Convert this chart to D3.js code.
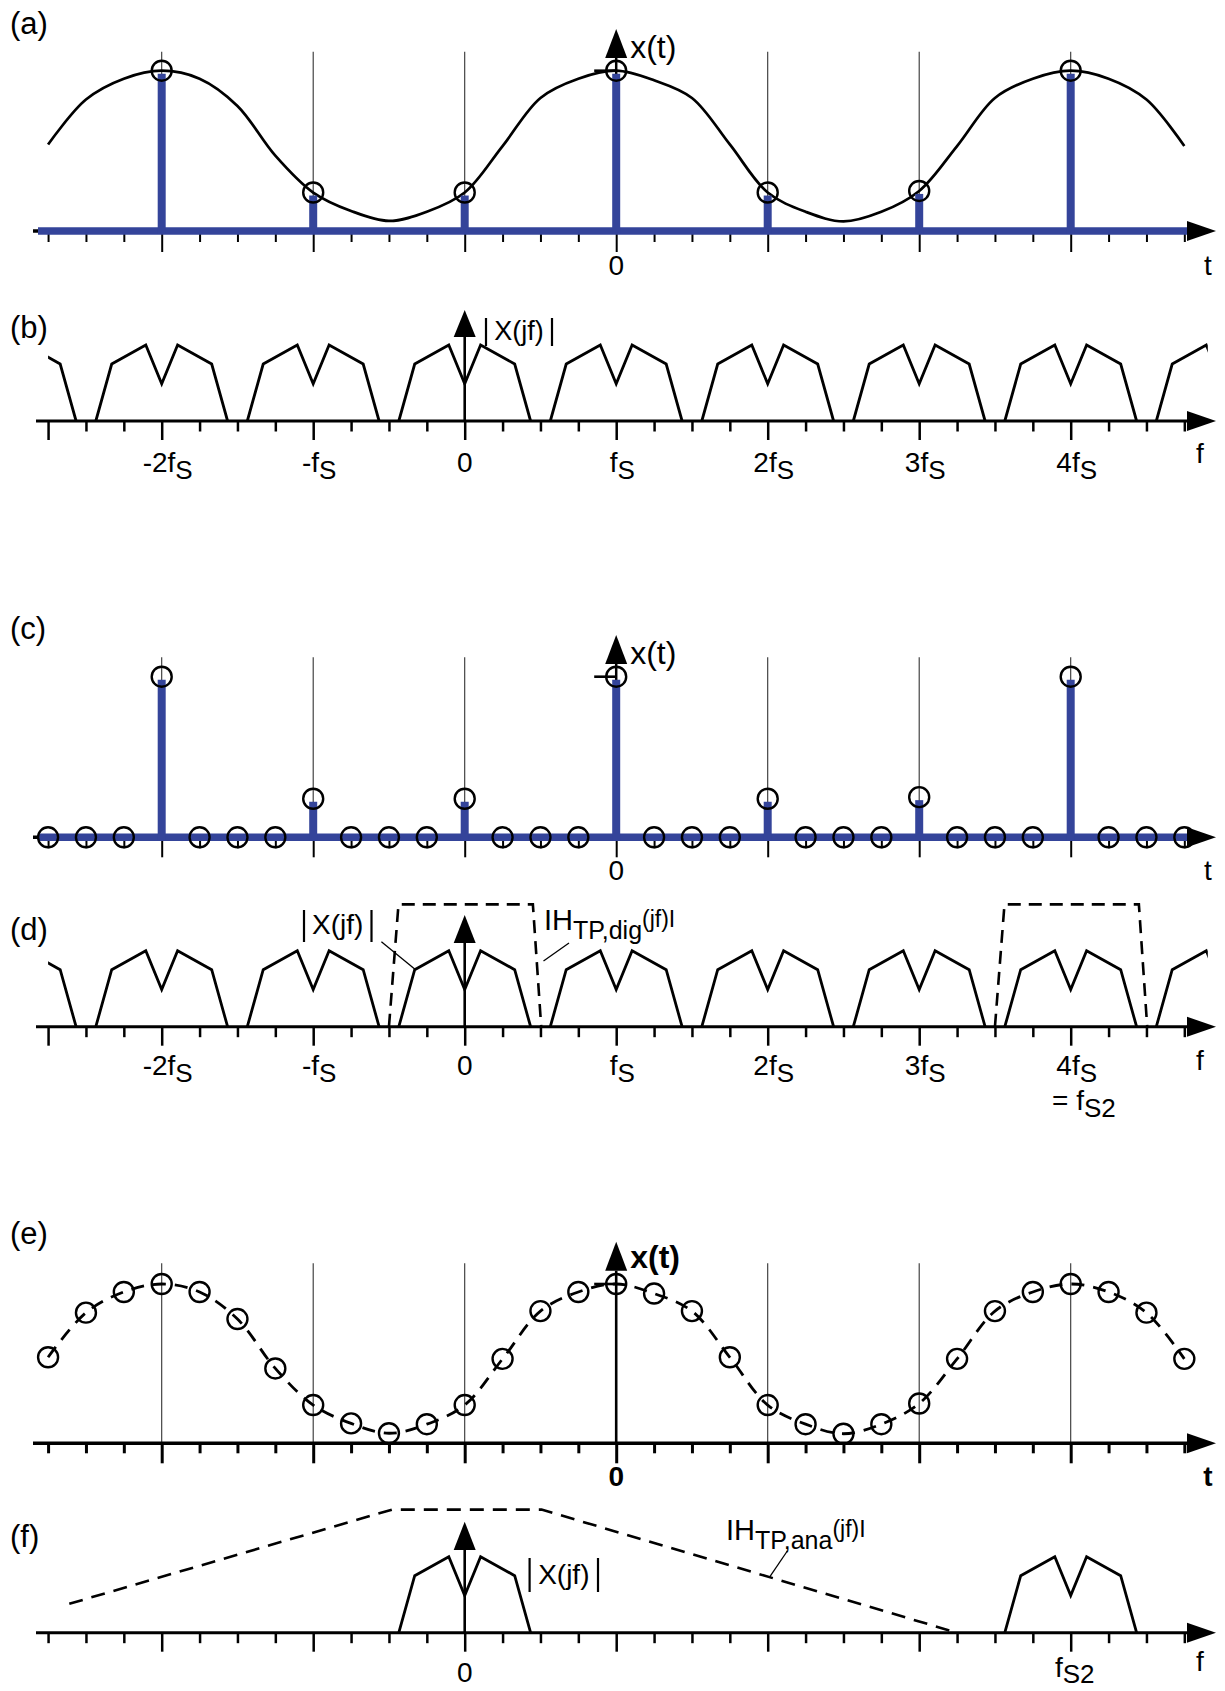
<!DOCTYPE html>
<html>
<head>
<meta charset="utf-8">
<script src="https://cdn.jsdelivr.net/npm/d3@7"></script>
<style>
body { margin: 0; background: #fff; }
text { font-family: "Liberation Sans", Arial, Helvetica, sans-serif; fill: #000; }
</style>
</head>
<body>
<div id="chart"></div>
<script>
// ---------------- data ----------------
// fine time grid (index n) and the analog signal x(t) read at those points (peak = 1)
var sample_t = [-15, -14, -13, -12, -11, -10, -9, -8, -7, -6, -5, -4, -3, -2, -1, 0,
                1, 2, 3, 4, 5, 6, 7, 8, 9, 10, 11, 12, 13, 14, 15];
var x_samples = [0.54, 0.82, 0.95, 1.0, 0.95, 0.78, 0.47, 0.24, 0.125, 0.063, 0.12, 0.24, 0.53, 0.83, 0.95, 1.0,
                 0.94, 0.83, 0.54, 0.24, 0.12, 0.06, 0.12, 0.25, 0.53, 0.83, 0.95, 1.0, 0.95, 0.82, 0.53];
// coarse sampling instants (every 4th point)
var stem_t = [-12, -8, -4, 0, 4, 8, 12];

// one period of the sampled spectrum |X(jf)| (offset from replica centre in fS, height)
var spec_f = [-0.435, -0.33, -0.105, 0, 0.105, 0.33, 0.435];
var spec_h = [0, 0.75, 1.0, 0.49, 1.0, 0.75, 0];
var replica_centers = [-3, -2, -1, 0, 1, 2, 3, 4, 5];
var replica_centers_f = [0, 4];

// frequency tick labels [main, subscript]
var f_major = [-2, -1, 0, 1, 2, 3, 4];
var f_labels = [["-2f", "S"], ["-f", "S"], ["0", ""], ["f", "S"], ["2f", "S"], ["3f", "S"], ["4f", "S"]];

// digital low pass |H_TP,dig(jf)| (offset from centre, height) and its centres
var dig_f = [-0.5, -0.437, 0.45, 0.505];
var dig_h = [0, 1.61, 1.61, 0];
var dig_centers = [0, 4];

// analog low pass |H_TP,ana(jf)|
var ana_f = [-2.61, -0.48, 0.507, 3.25];
var ana_h = [0.38, 1.62, 1.62, 0];

// ---------------- setup ----------------
var svg_width = 1225;
var svg_height = 1691;
var blue = "#34449a";

var svg = d3.select("#chart")
    .append("svg")
    .attr("width", svg_width)
    .attr("height", svg_height);

svg.append("rect").attr("width", svg_width).attr("height", svg_height).attr("fill", "#fff");

// shared horizontal scales (time index n and frequency in fS)
var t_scale = d3.scaleLinear().domain([-12, 12]).range([161.7, 1070.7]);
var f_scale = d3.scaleLinear().domain([-2, 4]).range([161.7, 1070.7]);

var minor_t = sample_t.filter(d => stem_t.indexOf(d) < 0);
var minor_f = d3.range(-11, 20).map(d => d / 4).filter(d => d % 1 !== 0);

var arrow_tip = 1216;
var arrow_len = 29;

// ---------------- helpers ----------------
function axisLine(g, y, x1, width, color) {
    g.append("line")
        .attr("x1", x1).attr("x2", arrow_tip - arrow_len + 2)
        .attr("y1", y).attr("y2", y)
        .attr("stroke", color).attr("stroke-width", width);
}

function rightArrow(g, y) {
    g.append("path")
        .attr("d", `M${arrow_tip},${y} L${arrow_tip - arrow_len},${y - 10} L${arrow_tip - arrow_len},${y + 10} Z`)
        .attr("fill", "#000");
}

function upArrow(g, x, tip, base, axisY, width) {
    if (axisY !== null) {
        g.append("line")
            .attr("x1", x).attr("x2", x).attr("y1", base).attr("y2", axisY)
            .attr("stroke", "#000").attr("stroke-width", width);
    }
    g.append("path")
        .attr("d", `M${x},${tip} L${x - 11},${base} L${x + 11},${base} Z`)
        .attr("fill", "#000");
}

function tickRow(g, y, scale, values, len, width) {
    var ax = g.append("g")
        .attr("transform", `translate(0, ${y})`)
        .call(d3.axisBottom(scale).tickValues(values).tickSize(len).tickFormat(""));
    ax.select(".domain").remove();
    ax.selectAll("line").attr("stroke-width", width).attr("stroke", "#000");
}

function addText(g, x, y, parts, size, anchor, bold) {
    var t = g.append("text")
        .attr("x", x).attr("y", y)
        .attr("font-size", size)
        .attr("text-anchor", anchor || "start");
    if (bold) t.attr("font-weight", "bold");
    var prev = 0;
    parts.forEach(function(p) {
        var dy = p.dy || 0;
        var sp = t.append("tspan").attr("dy", dy - prev).text(p.text);
        if (p.size) sp.attr("font-size", p.size);
        prev = dy;
    });
    return t;
}

function magLabel(g, xl, xr, y1, y2, baseline, size) {
    [xl, xr].forEach(function(x) {
        g.append("line").attr("x1", x).attr("x2", x).attr("y1", y1).attr("y2", y2)
            .attr("stroke", "#000").attr("stroke-width", 2.2);
    });
    addText(g, (xl + xr) / 2, baseline, [{ text: "X(jf)" }], size, "middle");
}

function freqLabels(g, baseline) {
    f_major.forEach(function(v, i) {
        var lab = f_labels[i];
        var parts = [{ text: lab[0] }];
        if (lab[1]) parts.push({ text: lab[1], size: 26, dy: 7 });
        addText(g, f_scale(v) + (lab[1] ? 6 : 0), baseline, parts, 28, "middle");
    });
}

function spectrum(g, centers, yScale, clipId) {
    var line = d3.line()
        .x(d => f_scale(d[0]))
        .y(d => yScale(d[1]));
    var sg = g.append("g");
    if (clipId) sg.attr("clip-path", `url(#${clipId})`);
    centers.forEach(function(c) {
        var pts = spec_f.map((o, i) => [c + o, spec_h[i]]);
        sg.append("path").attr("d", line(pts))
            .attr("fill", "none").attr("stroke", "#000")
            .attr("stroke-width", 2.8).attr("stroke-linejoin", "miter");
    });
}

function panelLabel(g, text, baseline) {
    addText(g, 10, baseline, [{ text: text }], 31, "start");
}

var defs = svg.append("defs");
defs.append("clipPath").attr("id", "specClip")
    .append("rect").attr("x", f_scale(-2.75)).attr("y", 0)
    .attr("width", f_scale(4.905) - f_scale(-2.75)).attr("height", svg_height);

// ---------------- time panels (a), (c), (e) ----------------
function timePanel(cfg) {
    var g = svg.append("g");
    var y = d3.scaleLinear().domain([0, 1]).range([cfg.axisY, cfg.peakY]);
    var x0 = t_scale(0);

    // thin guide lines at the coarse sampling instants
    stem_t.filter(d => d !== 0).forEach(function(t) {
        g.append("line")
            .attr("x1", t_scale(t)).attr("x2", t_scale(t))
            .attr("y1", cfg.guideTop).attr("y2", cfg.axisY)
            .attr("stroke", "#333").attr("stroke-width", 1.1);
    });

    var curve = d3.line()
        .x(d => t_scale(d[0]))
        .y(d => y(d[1]))
        .curve(d3.curveCatmullRom.alpha(0.5));
    var pts = sample_t.map((t, i) => [t, x_samples[i]]);

    if (cfg.kind === "a") {
        g.append("path").attr("d", curve(pts))
            .attr("fill", "none").attr("stroke", "#000").attr("stroke-width", 2.7);
    }
    if (cfg.kind === "e") {
        g.append("path").attr("d", curve(pts))
            .attr("fill", "none").attr("stroke", "#000").attr("stroke-width", 2.8)
            .attr("stroke-dasharray", "13,9");
        upArrow(g, x0, cfg.arrowTip, cfg.arrowTip + 29, cfg.axisY, 2.6);
    }

    axisLine(g, cfg.axisY, 33, 3.5, "#000");
    tickRow(g, cfg.axisY, t_scale, minor_t, cfg.minorLen, cfg.tickW);
    tickRow(g, cfg.axisY, t_scale, stem_t, cfg.majorLen, cfg.tickW);

    if (cfg.kind !== "e") {
        upArrow(g, x0, cfg.arrowTip, cfg.arrowTip + 29, cfg.axisY, 2.5);
        axisLine(g, cfg.axisY, 38, 7.5, blue);
        g.selectAll(null)
            .data(stem_t)
            .enter()
            .append("line")
            .attr("x1", d => t_scale(d)).attr("x2", d => t_scale(d))
            .attr("y1", cfg.axisY + 3)
            .attr("y2", d => y(x_samples[sample_t.indexOf(d)]) + 3)
            .attr("stroke", blue).attr("stroke-width", 8);
    }

    // circles
    var circ;
    if (cfg.kind === "a") circ = stem_t.map(t => [t, x_samples[sample_t.indexOf(t)]]);
    if (cfg.kind === "c") circ = sample_t.map((t, i) => [t, stem_t.indexOf(t) >= 0 ? x_samples[i] : 0]);
    if (cfg.kind === "e") circ = pts;
    g.selectAll(null)
        .data(circ)
        .enter()
        .append("circle")
        .attr("cx", d => t_scale(d[0]))
        .attr("cy", d => y(d[1]))
        .attr("r", 10)
        .attr("fill", "none").attr("stroke", "#000").attr("stroke-width", 2.4);

    // small tick at the peak value on the vertical axis
    g.append("line")
        .attr("x1", x0 - 22).attr("x2", x0)
        .attr("y1", y(1)).attr("y2", y(1))
        .attr("stroke", "#000").attr("stroke-width", 2.6);

    rightArrow(g, cfg.axisY);

    var bold = cfg.kind === "e";
    panelLabel(g, cfg.label, cfg.labelY);
    addText(g, x0 + 14, cfg.xtY, [{ text: "x(t)" }], 32, "start", bold);
    addText(g, x0, cfg.tickLabelY, [{ text: "0" }], 28, "middle", bold);
    addText(g, 1208, cfg.tickLabelY, [{ text: "t" }], 28, "middle", bold);
}

timePanel({ kind: "a", label: "(a)", labelY: 33.5, axisY: 231, peakY: 70.7, guideTop: 51.7,
    arrowTip: 29, xtY: 58, tickLabelY: 275, minorLen: 11, majorLen: 21, tickW: 2 });
timePanel({ kind: "c", label: "(c)", labelY: 638.5, axisY: 837.3, peakY: 676.7, guideTop: 657.3,
    arrowTip: 635, xtY: 664, tickLabelY: 880, minorLen: 11, majorLen: 20, tickW: 2 });
timePanel({ kind: "e", label: "(e)", labelY: 1243.5, axisY: 1443.3, peakY: 1284, guideTop: 1263.3,
    arrowTip: 1241.7, xtY: 1268, tickLabelY: 1486, minorLen: 10, majorLen: 20, tickW: 3 });

// ---------------- frequency panels (b), (d), (f) ----------------
function freqAxis(g, axisY, firstLong) {
    axisLine(g, axisY, 36, 3, "#000");
    var minors = minor_f.slice();
    var majors = f_major.slice();
    if (firstLong) { minors = minors.filter(d => d !== -2.75); majors.unshift(-2.75); }
    tickRow(g, axisY, f_scale, minors, 10.5, 2.5);
    tickRow(g, axisY, f_scale, majors, 19, 2.5);
    rightArrow(g, axisY);
}

// (b)
(function() {
    var g = svg.append("g");
    var axisY = 421;
    var y = d3.scaleLinear().domain([0, 1]).range([axisY, axisY - 76]);
    freqAxis(g, axisY, true);
    spectrum(g, replica_centers, y, "specClip");
    upArrow(g, f_scale(0), 310, 337, axisY, 2.6);
    panelLabel(g, "(b)", 337.5);
    magLabel(g, 486, 552, 318, 346, 340, 27);
    freqLabels(g, 472);
    addText(g, 1200, 463, [{ text: "f" }], 28, "middle");
})();

// (d)
(function() {
    var g = svg.append("g");
    var axisY = 1026.7;
    var y = d3.scaleLinear().domain([0, 1]).range([axisY, axisY - 76]);
    freqAxis(g, axisY, true);
    spectrum(g, replica_centers, y, "specClip");

    var fl = d3.line().x(d => f_scale(d[0])).y(d => y(d[1]));
    dig_centers.forEach(function(c) {
        g.append("path")
            .attr("d", fl(dig_f.map((o, i) => [c + o, dig_h[i]])))
            .attr("fill", "none").attr("stroke", "#000").attr("stroke-width", 2.6)
            .attr("stroke-dasharray", "13,8");
    });

    upArrow(g, f_scale(0), 915, 943, axisY, 2.6);
    panelLabel(g, "(d)", 939.5);

    magLabel(g, 304, 371.5, 910, 942, 934, 28);
    g.append("line").attr("x1", 381.4).attr("y1", 941.7).attr("x2", 415).attr("y2", 969.3)
        .attr("stroke", "#000").attr("stroke-width", 1.3);

    addText(g, 544, 930, [{ text: "IH" }, { text: "TP,dig", size: 25, dy: 9 }, { text: "(jf)I", size: 23, dy: -3 }], 29, "start");
    g.append("line").attr("x1", 569).attr("y1", 943).attr("x2", 543.5).attr("y2", 961)
        .attr("stroke", "#000").attr("stroke-width", 1.3);

    freqLabels(g, 1075);
    addText(g, 1052, 1110, [{ text: "= f" }, { text: "S2", size: 26, dy: 7 }], 28, "start");
    addText(g, 1200, 1070, [{ text: "f" }], 28, "middle");
})();

// (f)
(function() {
    var g = svg.append("g");
    var axisY = 1632.7;
    var y = d3.scaleLinear().domain([0, 1]).range([axisY, axisY - 76]);
    axisLine(g, axisY, 36, 3, "#000");
    tickRow(g, axisY, f_scale, minor_f, 10.5, 2.5);
    tickRow(g, axisY, f_scale, f_major, 19, 2.5);
    rightArrow(g, axisY);

    spectrum(g, replica_centers_f, y, null);

    var fl = d3.line().x(d => f_scale(d[0])).y(d => y(d[1]));
    g.append("path")
        .attr("d", fl(ana_f.map((o, i) => [o, ana_h[i]])))
        .attr("fill", "none").attr("stroke", "#000").attr("stroke-width", 2.6)
        .attr("stroke-dasharray", "14,9");

    upArrow(g, f_scale(0), 1521.7, 1550, axisY, 2.6);
    panelLabel(g, "(f)", 1546.5);
    magLabel(g, 529.6, 598, 1558, 1592, 1584, 28);

    addText(g, 726, 1540, [{ text: "IH" }, { text: "TP,ana", size: 25, dy: 9 }, { text: "(jf)I", size: 23, dy: -3 }], 29, "start");
    g.append("line").attr("x1", 787.3).attr("y1", 1551).attr("x2", 769.4).attr("y2", 1577.3)
        .attr("stroke", "#000").attr("stroke-width", 1.3);

    addText(g, f_scale(0), 1682, [{ text: "0" }], 28, "middle");
    addText(g, f_scale(4) + 4, 1677, [{ text: "f" }, { text: "S2", size: 26, dy: 6 }], 28, "middle");
    addText(g, 1200, 1671, [{ text: "f" }], 28, "middle");
})();
</script>
</body>
</html>
